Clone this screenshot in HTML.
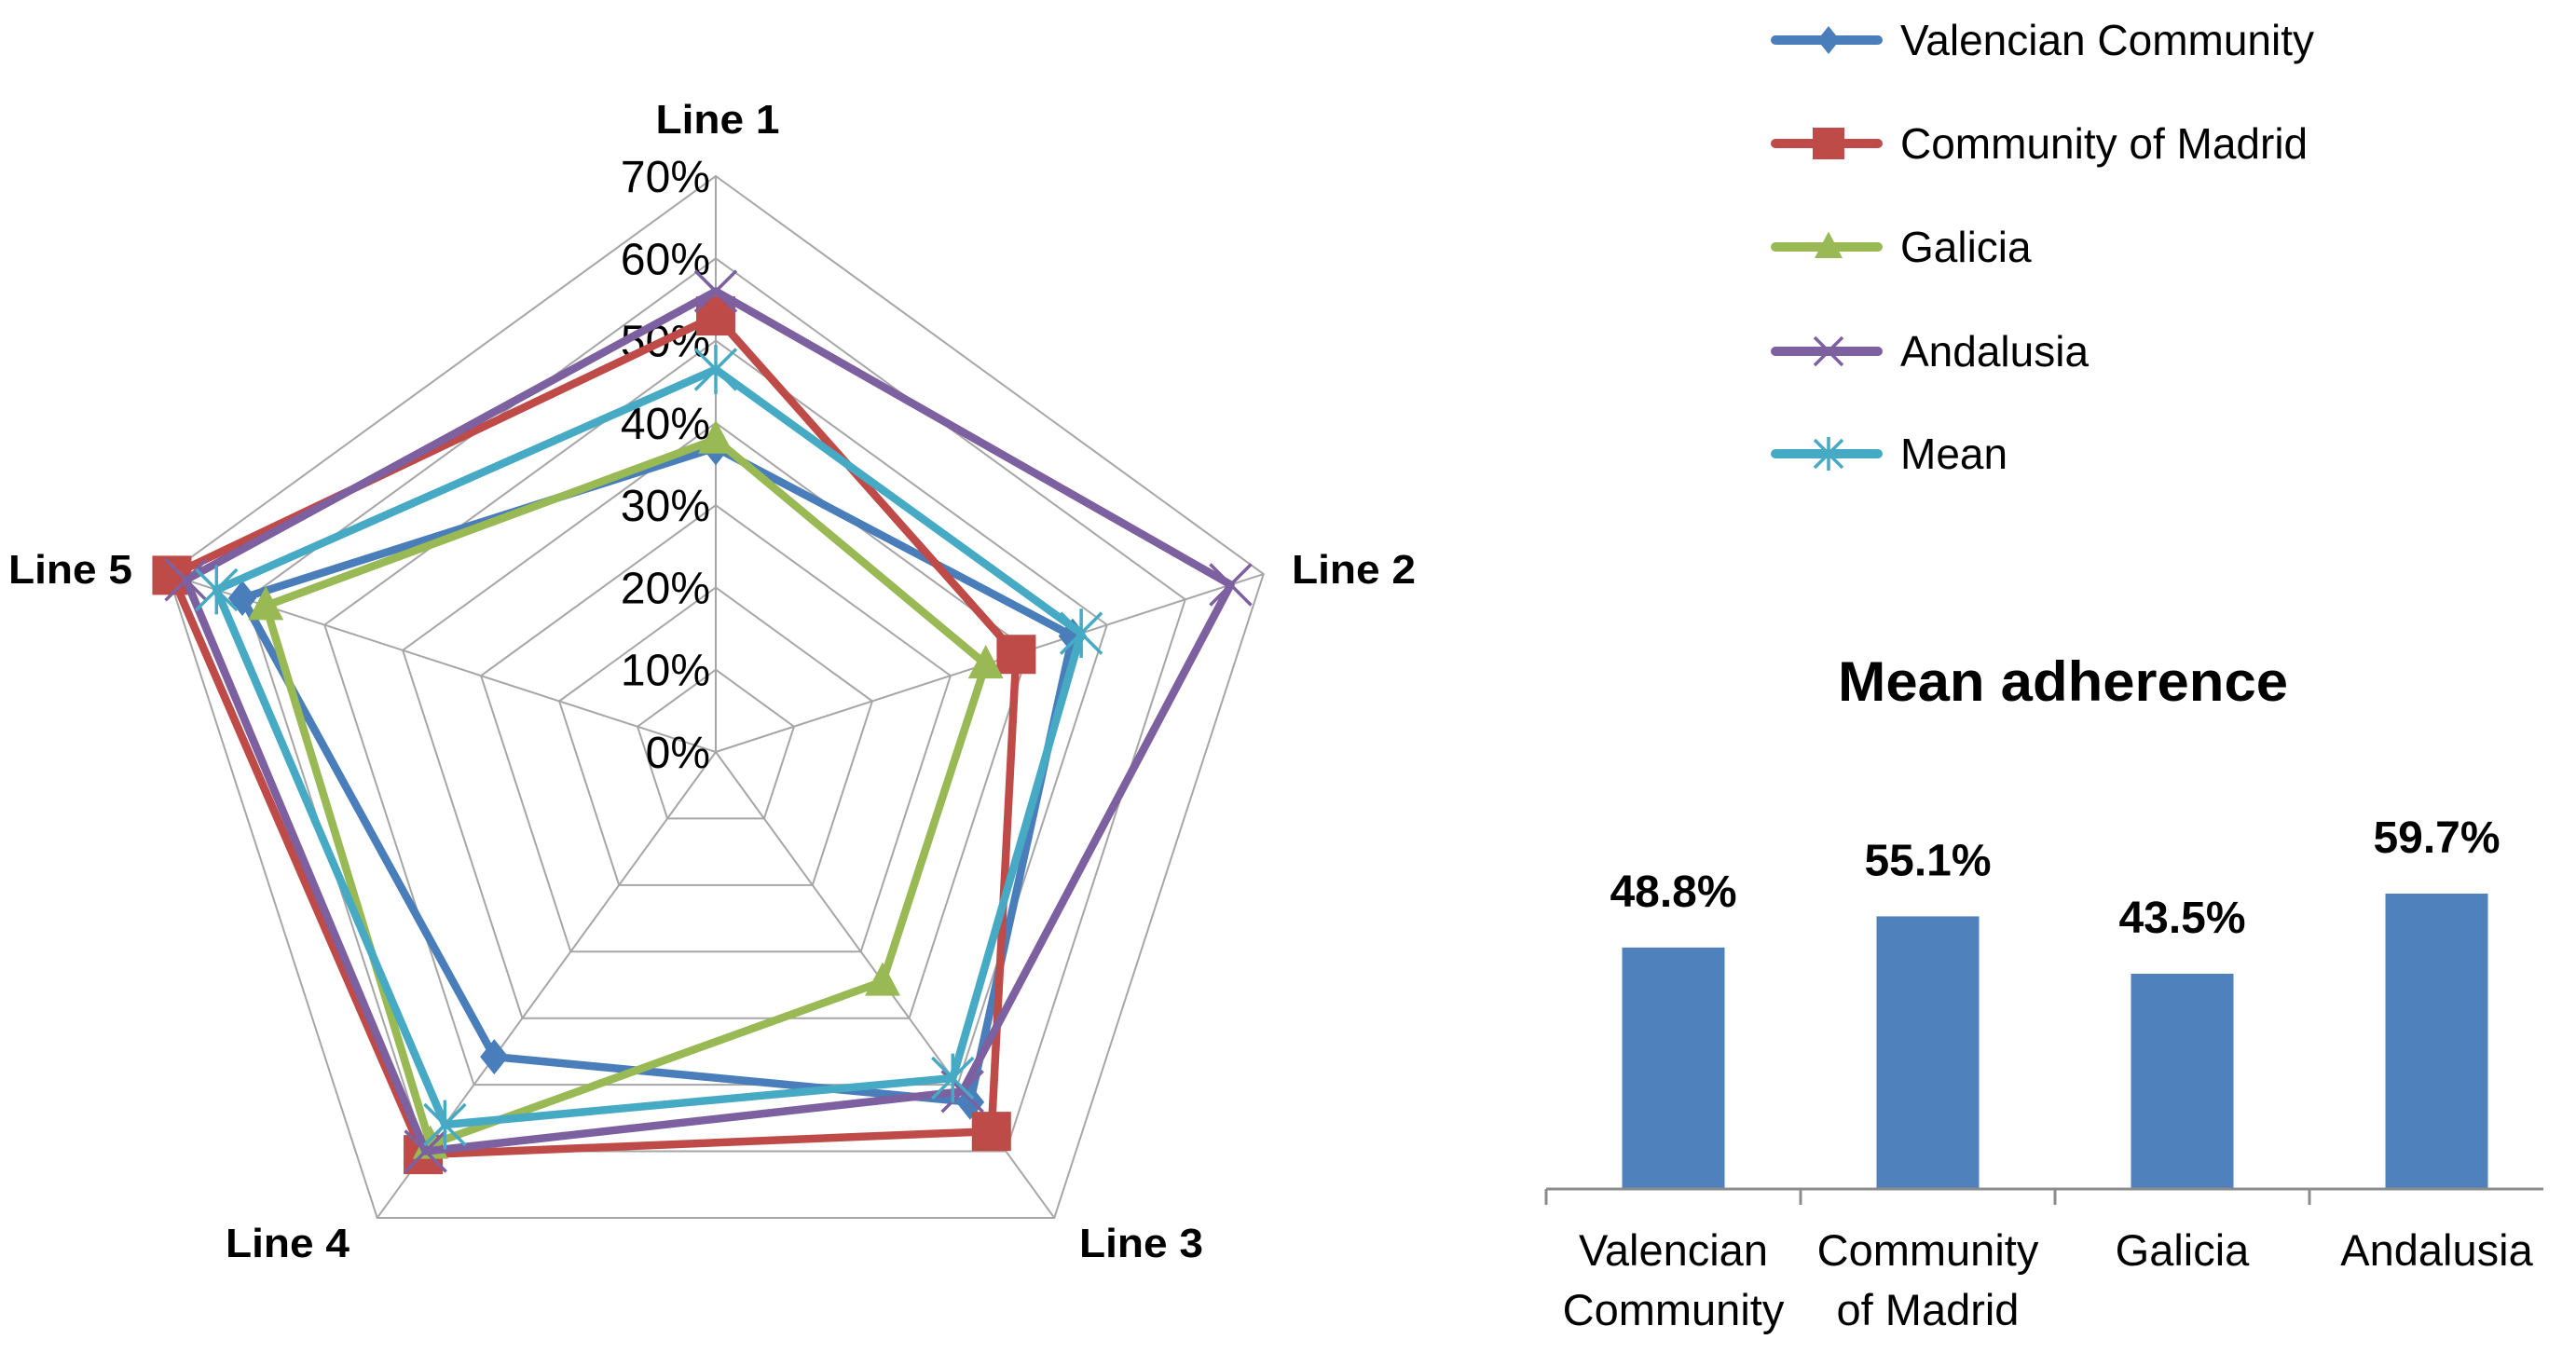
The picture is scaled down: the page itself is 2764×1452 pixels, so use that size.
<!DOCTYPE html>
<html><head><meta charset="utf-8"><style>
html,body{margin:0;padding:0;background:#fff;}
svg{display:block;}
text{font-family:"Liberation Sans",sans-serif;fill:#000;}
</style></head><body>
<svg id="chart" width="2764" height="1452" viewBox="0 0 2764 1452" xmlns="http://www.w3.org/2000/svg">
<g id="radar"></g>
<g id="legend"></g>
<g id="bars"></g>
</svg>
<script>
// ---- Radar data ----
const axes = ["Line 1","Line 2","Line 3","Line 4","Line 5"];
const radarTicks = [0,10,20,30,40,50,60,70];
const seriesNames = ["Valencian Community","Community of Madrid","Galicia","Andalusia","Mean"];
const valencian = [37,45.6,52.6,45.8,60.5];
const madrid = [53,38.4,57,60.5,69.5];
const galicia = [38,34.5,34.5,59,57.5];
const andalusia = [56,65.8,51,60,67.7];
const meanSeries = [46.5,46.7,49,56,63.8];
// ---- Bar data ----
const barCats = [["Valencian","Community"],["Community","of Madrid"],["Galicia"],["Andalusia"]];
const barValues = [48.8,55.1,43.5,59.7];
const barLabels = ["48.8%","55.1%","43.5%","59.7%"];

const NS="http://www.w3.org/2000/svg";
function mk(parent,tag,attrs,txt){const e=document.createElementNS(NS,tag);for(const k in attrs)e.setAttribute(k,attrs[k]);if(txt!==undefined)e.textContent=txt;parent.appendChild(e);return e;}

const colors=["#4A7EBB","#BE4B48","#98B954","#7D60A0","#46AAC5"];
const allSeries=[valencian,madrid,galicia,andalusia,meanSeries];

const cx=768, cy=807, R=618, maxV=70;
function rad(v){return v/maxV*R;}
function pt(i,v){const a=-Math.PI/2+i*2*Math.PI/5;return [cx+rad(v)*Math.cos(a), cy+rad(v)*Math.sin(a)];}

const radar=document.getElementById('radar');
radarTicks.forEach(t=>{
  if(t===0)return;
  const p=axes.map((a,i)=>pt(i,t).join(',')).join(' ');
  const g=mk(radar,'polygon',{points:p,fill:'none',stroke:'#a6a6a6','stroke-width':2});
  
  
});
axes.forEach((a,i)=>{
  const [x,y]=pt(i,maxV);
  const l=mk(radar,'line',{x1:cx,y1:cy,x2:x,y2:y,stroke:'#a6a6a6','stroke-width':2});
  
  
});
radarTicks.forEach(t=>{
  const y=cy-rad(t);
  const tx=mk(radar,'text',{x:762,y:y+17,'text-anchor':'end','font-size':48,fill:'#222'},t+'%');
  
  
});
const axisLabelPos=[[770,143,'middle'],[1386,626,'start'],[1158,1349,'start'],[242,1349,'start'],[9,626,'start']];
axes.forEach((a,i)=>{
  const p=axisLabelPos[i];
  const tx=mk(radar,'text',{x:p[0],y:p[1],'text-anchor':p[2],'font-size':44,'font-weight':'bold',textLength:133,lengthAdjust:'spacingAndGlyphs'},a);
  
  
});

function marker(parent,k,x,y,s,color){
  let e;
  if(k===0){e=mk(parent,'polygon',{points:`${x},${y-s} ${x+s*0.8},${y} ${x},${y+s} ${x-s*0.8},${y}`,fill:color});}
  else if(k===1){e=mk(parent,'rect',{x:x-s,y:y-s,width:2*s,height:2*s,fill:color});}
  else if(k===2){e=mk(parent,'polygon',{points:`${x},${y-s*1.1} ${x+s},${y+s*0.8} ${x-s},${y+s*0.8}`,fill:color});}
  else if(k===3){e=mk(parent,'path',{d:`M${x-s},${y-s}L${x+s},${y+s}M${x-s},${y+s}L${x+s},${y-s}`,stroke:color,'stroke-width':3.5,fill:'none'});}
  else {e=mk(parent,'path',{d:`M${x-s},${y-s}L${x+s},${y+s}M${x-s},${y+s}L${x+s},${y-s}M${x},${y-s*1.2}L${x},${y+s*1.2}`,stroke:color,'stroke-width':3.5,fill:'none'});}
  return e;
}
allSeries.forEach((vals,k)=>{
  const g=mk(radar,'g',{});
  
  
  const pts=vals.map((v,i)=>pt(i,v));
  const poly=mk(g,'polygon',{points:pts.map(p=>p.join(',')).join(' '),fill:'none',stroke:colors[k],'stroke-width':8.5,'stroke-linejoin':'round'});
  
  
  pts.forEach(p=>{
    const m=marker(g,k,p[0],p[1],k===1?21:k>=3?22:19,colors[k]);
    
    
  });
});

const legend=document.getElementById('legend');
const legY=[43,154,265,377,487];
seriesNames.forEach((n,k)=>{
  const g=mk(legend,'g',{});
  
  
  mk(g,'line',{x1:1905,y1:legY[k],x2:2015,y2:legY[k],stroke:colors[k],'stroke-width':10,'stroke-linecap':'round'});
  marker(g,k,1962,legY[k],k===1?17:15,colors[k]);
  const t=mk(g,'text',{x:2039,y:legY[k]+16,'font-size':46},n);
  
  
});

const bars=document.getElementById('bars');
const x0=1659, catW=273, baseY=1276, pxPerPct=5.31, barW=110, axisEnd=2729;
function xc(i){return x0+catW*(i+0.5);}
function yv(v){return baseY-v*pxPerPct;}
const title=mk(bars,'text',{x:1972,y:752,'font-size':60,'font-weight':'bold',textLength:483,lengthAdjust:'spacingAndGlyphs'},'Mean adherence');


barValues.forEach((v,i)=>{
  const r=mk(bars,'rect',{x:xc(i)-barW/2,y:yv(v),width:barW,height:baseY-yv(v),fill:'#4F81BD'});
  
  
  const t=mk(bars,'text',{x:xc(i),y:yv(v)-44,'text-anchor':'middle','font-size':48,'font-weight':'bold'},barLabels[i]);
  
  
  barCats[i].forEach((line,j)=>{
    const c=mk(bars,'text',{x:xc(i),y:1358+j*64,'text-anchor':'middle','font-size':47},line);
    
    
  });
});
const ax=mk(bars,'line',{x1:x0,y1:baseY,x2:axisEnd,y2:baseY,stroke:'#8c8c8c','stroke-width':3});


for(let i=0;i<4;i++){
  const tk=mk(bars,'line',{x1:x0+catW*i,y1:baseY,x2:x0+catW*i,y2:baseY+17,stroke:'#8c8c8c','stroke-width':3});
  
  
}
</script>
</body></html>
